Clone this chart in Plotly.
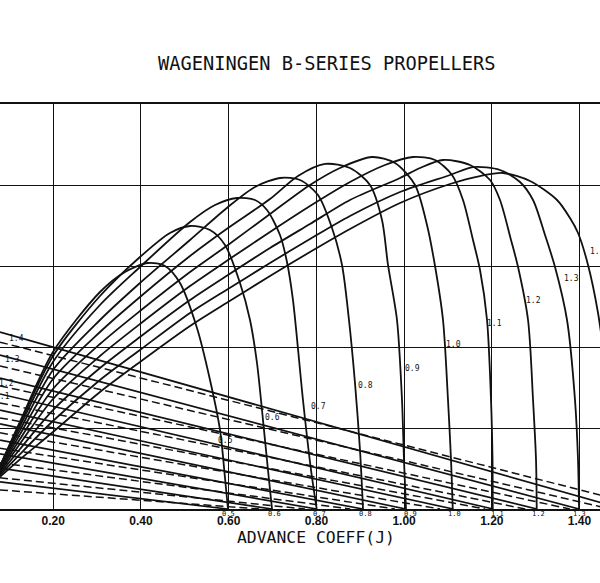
import plotly.graph_objects as go

# ---------------- data ----------------
pitch_ratios = [0.5, 0.6, 0.7, 0.8, 0.9, 1.0, 1.1, 1.2, 1.3, 1.4]
pd_labels = ["0.5", "0.6", "0.7", "0.8", "0.9", "1.0", "1.1", "1.2", "1.3", "1.4"]

# efficiency curves (J, value)
eta_J = [
    [0.0602, 0.1241, 0.1993, 0.3065, 0.3635, 0.4160, 0.4548, 0.4889, 0.5277, 0.5574, 0.5802, 0.5916, 0.5984],
    [0.0602, 0.1241, 0.1993, 0.3065, 0.3977, 0.4661, 0.5118, 0.5574, 0.5916, 0.6258, 0.6486, 0.6645, 0.6782, 0.6896, 0.6988],
    [0.0602, 0.1241, 0.1993, 0.3065, 0.3977, 0.5118, 0.5688, 0.6189, 0.6600, 0.6873, 0.7170, 0.7329, 0.7466, 0.7694, 0.7877, 0.8007],
    [0.0602, 0.1241, 0.1993, 0.3065, 0.3977, 0.5118, 0.5984, 0.6600, 0.7170, 0.7626, 0.8036, 0.8356, 0.8584, 0.8743, 0.8880, 0.8994, 0.9063],
    [0.0602, 0.1241, 0.1993, 0.3065, 0.3977, 0.5118, 0.5984, 0.6942, 0.7580, 0.8196, 0.8766, 0.9222, 0.9496, 0.9633, 0.9838, 0.9952, 0.9997, 1.0043],
    [0.0602, 0.1241, 0.1993, 0.3065, 0.3977, 0.5118, 0.5984, 0.6942, 0.7854, 0.8538, 0.9268, 0.9793, 1.0249, 1.0522, 1.0705, 1.0887, 1.1001, 1.1070, 1.1109],
    [0.0602, 0.1241, 0.1993, 0.3065, 0.3977, 0.5118, 0.5984, 0.6942, 0.7854, 0.8766, 0.9564, 1.0203, 1.0705, 1.1093, 1.1343, 1.1571, 1.1731, 1.1891, 1.1982, 1.2016, 1.2021],
    [0.0602, 0.1241, 0.1993, 0.3065, 0.3977, 0.5118, 0.5984, 0.6942, 0.7854, 0.8766, 0.9907, 1.0363, 1.0887, 1.1503, 1.1959, 1.2187, 1.2438, 1.2598, 1.2826, 1.2940, 1.3008, 1.3024],
    [0.0602, 0.1241, 0.1993, 0.3065, 0.3977, 0.5118, 0.5984, 0.6942, 0.7854, 0.8766, 0.9907, 1.1047, 1.1571, 1.2187, 1.2643, 1.2940, 1.3213, 1.3441, 1.3715, 1.3897, 1.3966, 1.3989],
    [0.0602, 0.1241, 0.1993, 0.3065, 0.3977, 0.5118, 0.5984, 0.6942, 0.7854, 0.8766, 0.9907, 1.1047, 1.1731, 1.2257, 1.2871, 1.3487, 1.3783, 1.3966, 1.4194, 1.4422, 1.4696, 1.4924, 1.4992],
]
eta_val = [
    [0.0617, 0.2158, 0.3877, 0.5358, 0.5852, 0.6074, 0.6000, 0.5580, 0.4469, 0.3185, 0.1951, 0.0765, 0.0],
    [0.0617, 0.2111, 0.3778, 0.5259, 0.6222, 0.6815, 0.6988, 0.6889, 0.6519, 0.5580, 0.4667, 0.3605, 0.2198, 0.0963, 0.0],
    [0.0617, 0.2042, 0.3630, 0.5037, 0.5975, 0.7086, 0.7506, 0.7679, 0.7630, 0.7383, 0.6765, 0.6099, 0.5160, 0.2691, 0.0963, 0.0],
    [0.0617, 0.1948, 0.3432, 0.4667, 0.5580, 0.6642, 0.7457, 0.7951, 0.8173, 0.8123, 0.7753, 0.6938, 0.6025, 0.4667, 0.3111, 0.1457, 0.0],
    [0.0617, 0.1842, 0.3210, 0.4370, 0.5235, 0.6247, 0.6938, 0.7654, 0.8222, 0.8519, 0.8420, 0.8000, 0.7136, 0.6025, 0.4667, 0.2691, 0.1210, 0.0],
    [0.0617, 0.1726, 0.2963, 0.4074, 0.4889, 0.5852, 0.6519, 0.7284, 0.8000, 0.8420, 0.8691, 0.8543, 0.8000, 0.7012, 0.6000, 0.4667, 0.2691, 0.1210, 0.0],
    [0.0617, 0.1610, 0.2716, 0.3778, 0.4568, 0.5506, 0.6148, 0.6840, 0.7481, 0.8074, 0.8494, 0.8691, 0.8617, 0.8247, 0.7630, 0.6642, 0.5901, 0.4667, 0.2691, 0.1210, 0.0],
    [0.0617, 0.1481, 0.2444, 0.3481, 0.4247, 0.5160, 0.5778, 0.6444, 0.7037, 0.7630, 0.8173, 0.8420, 0.8617, 0.8494, 0.8123, 0.7630, 0.6642, 0.5975, 0.4667, 0.2691, 0.1210, 0.0],
    [0.0617, 0.1353, 0.2173, 0.3185, 0.3926, 0.4840, 0.5432, 0.6074, 0.6667, 0.7235, 0.7827, 0.8247, 0.8444, 0.8370, 0.8074, 0.7630, 0.6765, 0.5975, 0.4667, 0.2691, 0.1210, 0.0],
    [0.0617, 0.1225, 0.1901, 0.2889, 0.3630, 0.4519, 0.5111, 0.5753, 0.6346, 0.6914, 0.7556, 0.8025, 0.8222, 0.8296, 0.8099, 0.7630, 0.7185, 0.6815, 0.6025, 0.4840, 0.2691, 0.0963, 0.0],
]

# thrust lines (solid): value at left edge of frame, J where value reaches zero
J_left = 0.0785
kt_left = [0.067, 0.101, 0.136, 0.170, 0.210, 0.244, 0.284, 0.323, 0.380, 0.437]
kt_zero_J = [0.598, 0.699, 0.801, 0.906, 1.004, 1.112, 1.203, 1.303, 1.399, 1.499]
# torque lines (dashed)
kq_left = [0.047, 0.077, 0.114, 0.150, 0.188, 0.225, 0.262, 0.304, 0.353, 0.412]
kq_zero_J = [0.671, 0.774, 0.877, 0.979, 1.082, 1.185, 1.276, 1.378, 1.470, 1.572]

# labels on efficiency curves
eta_label_J = [0.592, 0.701, 0.804, 0.911, 1.020, 1.112, 1.205, 1.296, 1.381, 1.440]
eta_label_v = [0.170, 0.227, 0.252, 0.304, 0.348, 0.405, 0.459, 0.514, 0.568, 0.635]
# labels at left end of thrust lines
kt_label_text = ["1.0", "1.1", "1.2", "1.3", "1.4"]
kt_label_J = [0.0716, 0.0853, 0.0933, 0.107, 0.116]
kt_label_v = [0.240, 0.279, 0.309, 0.368, 0.422]
# labels along the bottom axis (J where thrust is zero)
bottom_label_J = [0.600, 0.704, 0.808, 0.911, 1.014, 1.116, 1.212, 1.306, 1.401]

x_ticks = [0.2, 0.4, 0.6, 0.8, 1.0, 1.2, 1.4]
x_ticktext = ["0.20", "0.40", "0.60", "0.80", "1.00", "1.20", "1.40"]
y_grid = [0.2, 0.4, 0.6, 0.8]

# ---------------- figure ----------------
fig = go.Figure()
ink = "#111111"

for i in range(len(pitch_ratios)):
    fig.add_trace(go.Scatter(
        x=[J_left, kt_zero_J[i]], y=[kt_left[i], 0.0], mode="lines",
        line=dict(color=ink, width=1.7), showlegend=False, hoverinfo="skip"))
    fig.add_trace(go.Scatter(
        x=[J_left, kq_zero_J[i]], y=[kq_left[i], 0.0], mode="lines",
        line=dict(color=ink, width=1.5, dash="8px,4px"), showlegend=False, hoverinfo="skip"))

for i in range(len(pitch_ratios)):
    fig.add_trace(go.Scatter(
        x=eta_J[i], y=eta_val[i], mode="lines",
        line=dict(color=ink, width=1.8, shape="spline", smoothing=0.8),
        showlegend=False, hoverinfo="skip"))

small_font = dict(family="DejaVu Sans Mono", size=8, color=ink)
for i in range(len(pitch_ratios)):
    fig.add_annotation(x=eta_label_J[i], y=eta_label_v[i], text=pd_labels[i],
                       showarrow=False, font=small_font, xanchor="center", yanchor="middle")
for i in range(len(kt_label_text)):
    fig.add_annotation(x=kt_label_J[i], y=kt_label_v[i], text=kt_label_text[i],
                       showarrow=False, font=small_font, xanchor="center", yanchor="middle")
for i in range(len(bottom_label_J)):
    fig.add_annotation(x=bottom_label_J[i], y=0, yref="paper", text=pd_labels[i],
                       showarrow=False, font=dict(family="DejaVu Sans Mono", size=7, color=ink),
                       xanchor="center", yanchor="top", yshift=1)

fig.add_annotation(x=0.80, y=0, yref="paper", text="ADVANCE COEFF(J)", showarrow=False,
                   font=dict(family="DejaVu Sans Mono", size=16.4, color=ink),
                   xanchor="center", yanchor="middle", yshift=-28)
fig.add_annotation(x=0.824, y=1, yref="paper", text="WAGENINGEN B-SERIES PROPELLERS",
                   showarrow=False, font=dict(family="DejaVu Sans Mono", size=18.7, color=ink),
                   xanchor="center", yanchor="middle", yshift=41)

fig.update_layout(
    width=600, height=583,
    margin=dict(l=0, r=0, t=104, b=74, autoexpand=False),
    paper_bgcolor="white", plot_bgcolor="white",
    xaxis=dict(range=[0.0785, 1.4467], tickvals=x_ticks, ticktext=x_ticktext,
               showgrid=True, gridcolor=ink, gridwidth=1.4, zeroline=False, automargin=False,
               showline=True, linecolor=ink, linewidth=2, mirror=True, ticks="",
               tickfont=dict(family="Liberation Sans", size=12, color=ink, weight="bold")),
    yaxis=dict(range=[0, 1], tickvals=y_grid, showticklabels=False, automargin=False,
               showgrid=True, gridcolor=ink, gridwidth=1.4, zeroline=False,
               showline=False),
)

fig.write_html("out.html", config={"displayModeBar": False},
               post_script="document.body.style.margin='0px';")
